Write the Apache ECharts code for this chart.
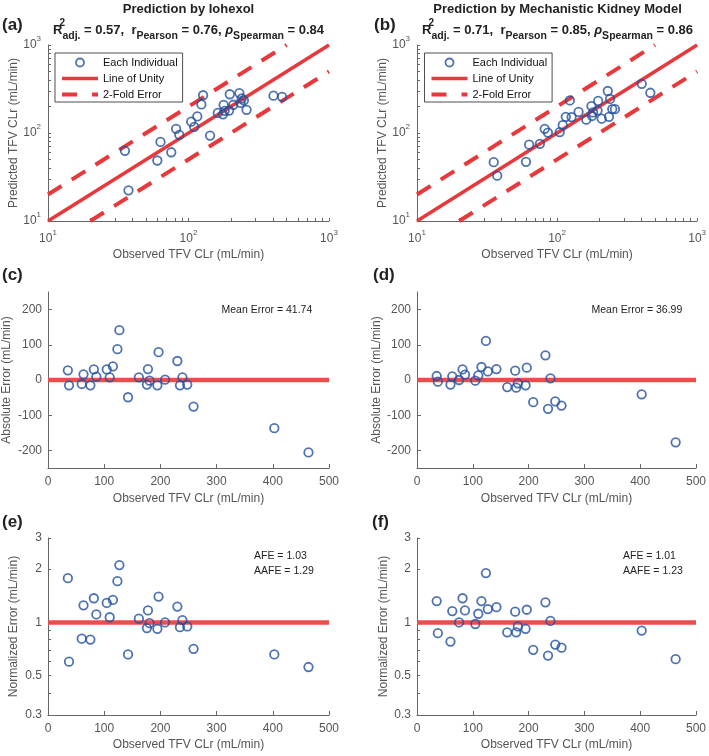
<!DOCTYPE html>
<html>
<head>
<meta charset="utf-8">
<script src="https://cdn.jsdelivr.net/npm/echarts@6/dist/echarts.min.js"></script>
<style>html,body{margin:0;padding:0;background:#fff}#chart{width:709px;height:756px}</style>
</head>
<body>
<div id="chart"></div>
<script>
// observed TFV CLr per individual (shared x of every panel)
var obsCLr = [35.3, 37.4, 60, 63.2, 75.4, 81.6, 86, 104.5, 109.8, 115.5, 123.5, 127, 142.4, 161.7, 176, 177.8, 180.7, 194.6, 196.7, 208.3, 230.2, 234.8, 239.2, 247.8, 259, 402.7, 463.5];
var predIohexol = [62.7, 22.3, 48.7, 79.2, 60.4, 111.6, 95.4, 134.5, 117.3, 154.2, 211.2, 268.5, 93.4, 169.2, 163, 208.8, 178.7, 179.6, 275.7, 209.3, 284.2, 219.8, 246.7, 234.8, 183.5, 265.7, 257.8];
var predKidney = [46.6, 32.7, 47, 73.6, 75.4, 111.6, 101, 102.5, 122.8, 152.5, 234.5, 151.5, 173.4, 141.7, 202.4, 156.1, 171.3, 179.6, 231.7, 145.3, 300.2, 152.8, 243.9, 186.8, 186.4, 362.1, 286.5];
var errIohexol = [27.4, -15.1, -11.3, 16, -15, 30, 9.4, 30, 7.5, 38.7, 87.7, 141.5, -49, 7.5, -13, 31, -2, -15, 79, 1, 54, -15, 7.5, -13, -75.5, -137, -205.7];
var errKidney = [11.3, -4.7, -13, 10.4, 0, 30, 15, -2, 13, 37, 111, 24.5, 31, -20, 26.4, -21.7, -9.4, -15, 35, -63, 70, -82, 4.7, -61, -72.6, -40.6, -177];
var normIohexol = [1.78, 0.60, 0.81, 1.25, 0.80, 1.37, 1.11, 1.29, 1.07, 1.34, 1.71, 2.11, 0.66, 1.05, 0.93, 1.17, 0.99, 0.92, 1.40, 1.00, 1.23, 0.94, 1.03, 0.95, 0.71, 0.66, 0.56];
var normKidney = [1.32, 0.87, 0.78, 1.16, 1.00, 1.37, 1.17, 0.98, 1.12, 1.32, 1.90, 1.19, 1.22, 0.88, 1.15, 0.88, 0.95, 0.92, 1.18, 0.70, 1.30, 0.65, 1.02, 0.75, 0.72, 0.90, 0.62];

// reference lines
var unityLine = [[10, 10], [1000, 1000]];
var foldUpper = [[10, 20], [500, 1000]];
var foldLower = [[20, 10], [1000, 500]];
var zeroLine = [[0, 0], [500, 0]];
var oneLine = [[0, 1], [500, 1]];

// ticks
var clrTicks = [10, 20, 30, 40, 50, 60, 70, 80, 90, 100, 200, 300, 400, 500, 600, 700, 800, 900, 1000];
var clrLabels = [10, 100, 1000];
var errLabels = [-200, -100, 0, 100, 200];
var normTicks = [0.3, 0.4, 0.5, 0.6, 0.7, 0.8, 0.9, 1, 2, 3];
var normLabels = [0.3, 0.5, 1, 2, 3];

var statsIohexol = ['0.57', '0.76', '0.84'];
var statsKidney = ['0.71', '0.85', '0.86'];

var FONT = 'Liberation Sans, Arial, Helvetica, sans-serif';
var RED = '#e8383b';
var BLUE = '#23509e';
var AXIS = '#666';
var TXT = '#555';
var xName = 'Observed TFV CLr (mL/min)';

var grids = [
    {left: 48, top: 45, width: 281, height: 176},
    {left: 417, top: 45, width: 281, height: 176},
    {left: 48, top: 292, width: 281, height: 176},
    {left: 417, top: 292, width: 281, height: 176},
    {left: 48, top: 538, width: 281, height: 177},
    {left: 417, top: 538, width: 281, height: 177}
];

function pairs(ys) {
    return obsCLr.map(function (x, i) { return [x, ys[i]]; });
}

function powLabel(v) {
    return '{b|10}{s|' + Math.round(Math.log10(v)) + '}';
}
var powRich = {
    b: {fontSize: 12, color: TXT, fontFamily: FONT, lineHeight: 20},
    s: {fontSize: 8, color: TXT, fontFamily: FONT, verticalAlign: 'top', lineHeight: 6}
};

function baseAxis(gi, name, gap) {
    return {
        gridIndex: gi,
        name: name,
        nameLocation: 'middle',
        nameGap: gap,
        nameTextStyle: {color: TXT, fontSize: 12, fontFamily: FONT},
        axisLine: {show: true, onZero: false, lineStyle: {color: AXIS, width: 1}},
        axisTick: {show: true, inside: true, length: 4, lineStyle: {color: AXIS}},
        axisLabel: {color: TXT, fontSize: 12, fontFamily: FONT},
        splitLine: {show: false}
    };
}

function logClrAxis(gi, name, gap, isY) {
    var a = baseAxis(gi, name, gap);
    a.type = 'log';
    a.logBase = 10;
    a.min = 10;
    a.max = 1000;
    a.axisTick.customValues = clrTicks;
    a.axisTick.length = 3;
    a.axisLabel.customValues = clrLabels;
    a.axisLabel.formatter = powLabel;
    a.axisLabel.rich = powRich;
    a.axisLabel.margin = isY ? 7 : 8;
    return a;
}

function linXAxis(gi, gap) {
    var a = baseAxis(gi, xName, gap);
    a.type = 'value';
    a.min = 0;
    a.max = 500;
    a.interval = 100;
    return a;
}

function errYAxis(gi, gap) {
    var a = baseAxis(gi, 'Absolute Error (mL/min)', gap);
    a.type = 'value';
    a.min = -250;
    a.max = 250;
    a.axisTick.customValues = errLabels;
    a.axisLabel.customValues = errLabels;
    a.axisLabel.margin = 6;
    return a;
}

function normYAxis(gi, gap) {
    var a = baseAxis(gi, 'Normalized Error (mL/min)', gap);
    a.type = 'log';
    a.logBase = 10;
    a.min = 0.3;
    a.max = 3;
    a.axisTick.customValues = normTicks;
    a.axisTick.length = 3;
    a.axisLabel.customValues = normLabels;
    a.axisLabel.formatter = function (v) { return String(+(+v).toFixed(1)); };
    a.axisLabel.margin = 6;
    return a;
}

function scatter(idx, ys) {
    return {
        name: 'Each Individual', type: 'scatter', xAxisIndex: idx, yAxisIndex: idx,
        data: pairs(ys), symbol: 'circle', symbolSize: 8.5, z: 5,
        itemStyle: {color: 'rgba(0,0,0,0)', borderColor: BLUE, borderWidth: 1.8}
    };
}
function refLine(idx, name, data, style) {
    return {
        name: name, type: 'line', xAxisIndex: idx, yAxisIndex: idx, data: data,
        symbol: 'none', z: 2, silent: true, lineStyle: style,
        itemStyle: {color: style.color}
    };
}
var unityStyle = {color: RED, width: 3.5};
var foldStyle = {color: RED, width: 4, type: [16, 12]};
var flatStyle = {color: '#ee4c4c', width: 4.5};

// line items in the legend: hide the marker dot that ECharts adds on line icons
var noDot = {color: 'rgba(0,0,0,0)', borderWidth: 0};

function legendAt(left) {
    return {
        left: left, top: 53, orient: 'vertical', selectedMode: false,
        itemWidth: 36, itemHeight: 8, itemGap: 5,
        padding: [4, 5, 2, 5],
        borderColor: '#222', borderWidth: 0.8, backgroundColor: '#fff',
        textStyle: {color: '#111', fontSize: 11, fontFamily: FONT},
        data: [
            {name: 'Each Individual', itemStyle: {borderWidth: 1.8}},
            {name: 'Line of Unity', lineStyle: {width: 3.5}, itemStyle: noDot},
            {name: '2-Fold Error', lineStyle: {width: 4, type: [15, 15]}, itemStyle: noDot}
        ]
    };
}

function statText(cx, s) {
    return {
        type: 'text', x: cx, y: 30, z: 10,
        style: {
            text: 'R{sup|2}{sub|adj.} = ' + s[0] + ',  r{sub|Pearson} = ' + s[1] + ', {rho|ρ}{sub|Spearman} = ' + s[2],
            align: 'center', verticalAlign: 'middle', fill: '#222',
            fontSize: 13, fontWeight: 'bold', fontFamily: FONT, lineHeight: 24,
            rich: {
                sup: {fontSize: 10, fontWeight: 'bold', fontFamily: FONT, fill: '#222', verticalAlign: 'top', lineHeight: 6, width: 0},
                sub: {fontSize: 10.5, fontWeight: 'bold', fontFamily: FONT, fill: '#222', verticalAlign: 'bottom', lineHeight: 14},
                rho: {fontSize: 13, fontWeight: 'bold', fontStyle: 'italic', fontFamily: FONT, fill: '#222'}
            }
        }
    };
}
function txt(x, y, s, size, weight, align, color) {
    return {
        type: 'text', x: x, y: y, z: 10,
        style: {text: s, fontSize: size, fontWeight: weight, fontFamily: FONT,
            fill: color || '#222', align: align || 'left', verticalAlign: 'middle'}
    };
}

var myChart = echarts.init(document.getElementById('chart'));
var option = {
    animation: false,
    backgroundColor: '#fff',
    grid: grids,
    legend: [legendAt(55), legendAt(424.5)],
    xAxis: [
        logClrAxis(0, xName, 28, false),
        logClrAxis(1, xName, 28, false),
        linXAxis(2, 25),
        linXAxis(3, 25),
        linXAxis(4, 24),
        linXAxis(5, 24)
    ],
    yAxis: [
        logClrAxis(0, 'Predicted TFV CLr (mL/min)', 28, true),
        logClrAxis(1, 'Predicted TFV CLr (mL/min)', 27, true),
        errYAxis(2, 35),
        errYAxis(3, 34),
        normYAxis(4, 28),
        normYAxis(5, 27)
    ],
    series: [
        refLine(0, 'Line of Unity', unityLine, unityStyle),
        refLine(0, '2-Fold Error', foldUpper, foldStyle),
        refLine(0, '2-Fold Error', foldLower, foldStyle),
        scatter(0, predIohexol),
        refLine(1, 'Line of Unity', unityLine, unityStyle),
        refLine(1, '2-Fold Error', foldUpper, foldStyle),
        refLine(1, '2-Fold Error', foldLower, foldStyle),
        scatter(1, predKidney),
        refLine(2, 'zero', zeroLine, flatStyle),
        scatter(2, errIohexol),
        refLine(3, 'zero', zeroLine, flatStyle),
        scatter(3, errKidney),
        refLine(4, 'one', oneLine, flatStyle),
        scatter(4, normIohexol),
        refLine(5, 'one', oneLine, flatStyle),
        scatter(5, normKidney)
    ],
    graphic: [
        txt(188.5, 9.5, 'Prediction by Iohexol', 13, 'bold', 'center'),
        txt(557.5, 9.5, 'Prediction by Mechanistic Kidney Model', 13, 'bold', 'center'),
        statText(188.5, statsIohexol),
        statText(557.5, statsKidney),
        txt(2, 25, '(a)', 17, 'bold'),
        txt(374, 25, '(b)', 17, 'bold'),
        txt(2, 275, '(c)', 17, 'bold'),
        txt(373, 275, '(d)', 17, 'bold'),
        txt(2, 522, '(e)', 17, 'bold'),
        txt(372, 522, '(f)', 17, 'bold'),
        txt(221.5, 310.5, 'Mean Error = 41.74', 10.5, 'normal'),
        txt(591.5, 310.5, 'Mean Error = 36.99', 10.5, 'normal'),
        txt(254, 556.5, 'AFE = 1.03', 10.5, 'normal'),
        txt(254, 571.5, 'AAFE = 1.29', 10.5, 'normal'),
        txt(623, 556.5, 'AFE = 1.01', 10.5, 'normal'),
        txt(623, 571.5, 'AAFE = 1.23', 10.5, 'normal')
    ]
};
myChart.setOption(option);
</script>
</body>
</html>
